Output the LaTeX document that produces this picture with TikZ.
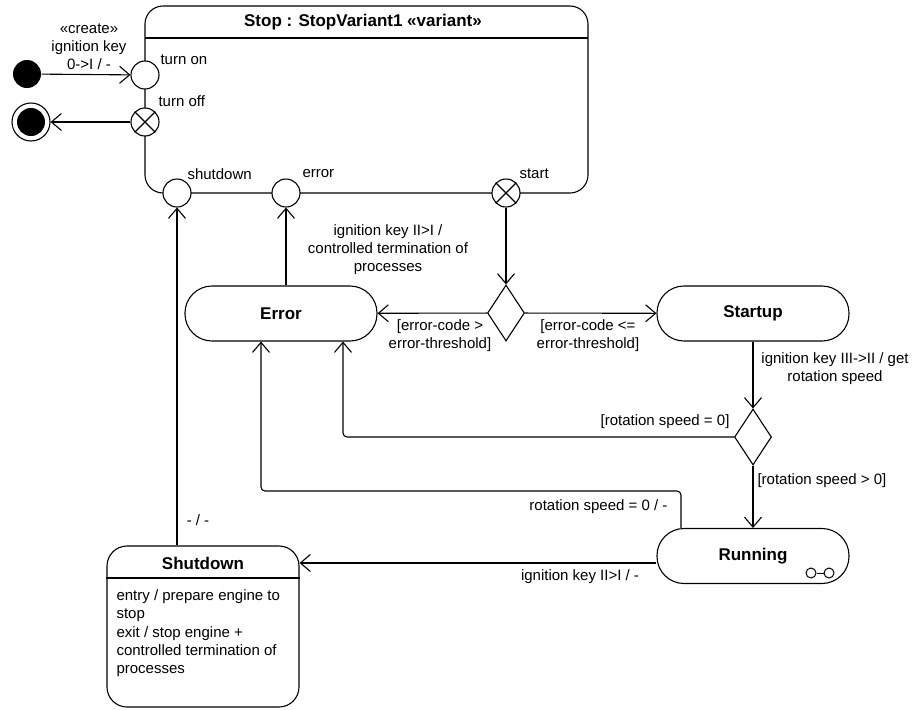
\documentclass[tikz,border=0pt]{standalone}
\usepackage{fontspec}
\setmainfont{Liberation Sans}
\usetikzlibrary{arrows.meta,shapes.geometric}
\begin{document}
\begin{tikzpicture}[x=1pt,y=-1pt,
  line width=1.1pt,
  every node/.style={font=\fontsize{15}{18}\selectfont, inner sep=0pt},
  title/.style={font=\fontsize{17}{20}\selectfont\bfseries},
  statebox/.style={draw, rounded corners=27pt, minimum width=192pt, minimum height=55pt,
    font=\fontsize{17}{20}\selectfont\bfseries},
  port/.style={draw, circle, fill=white, minimum size=28pt},
  choice/.style={draw, diamond, fill=white, minimum width=37pt, minimum height=56pt},
  arr/.style={-{Straight Barb[length=10pt,width=17pt,line width=1.1pt]}},
  lbl/.style={align=center},
]
\useasboundingbox (0,0) rectangle (922,710);

% composite state Stop
\draw[rounded corners=18pt] (145,6) rectangle (588,193);
\draw (145,38) -- (588,38);
\node[title] (stophead) at (363,22) {Stop : StopVariant1 «variant»};

% entry and exit points
\node[port] (turnon) at (145,75) {};
\node[port] (turnoff) at (145,122) {};
\node[port] (shport) at (177,193) {};
\node[port] (errport) at (286,193) {};
\node[port] (startport) at (506,193) {};
\foreach \p in {turnoff,startport}{
  \draw (\p.north west) -- (\p.south east) (\p.north east) -- (\p.south west);
}
\node[anchor=west] (lturnon) at (160,60) {turn on};
\node[anchor=west] (lturnoff) at (158,101) {turn off};
\node[anchor=west] (lshport) at (187,174) {shutdown};
\node[anchor=west] (lerrport) at (302,174) {error};
\node[anchor=west] (lstartport) at (519,174) {start};

% pseudo states
\node[circle, fill=black, minimum size=28pt] (init) at (27,74) {};
\node[circle, draw, fill=white, minimum size=38pt] (final) at (31,122) {};
\node[circle, fill=black, minimum size=28pt] (finalin) at (31,122) {};

% states
\node[statebox] (error) at (281,313.5) {Error};
\node[statebox] (startup) at (753,313.5) {Startup};
\node[statebox] (running) at (753,556) {Running};
\node[choice] (d1) at (506,313) {};
\node[choice] (d2) at (753,437) {};

% decomposition icon of Running
\node[circle, draw, minimum size=10pt, line width=1pt] (ia) at (811,573) {};
\node[circle, draw, minimum size=10pt, line width=1pt] (ib) at (829,573) {};
\draw[line width=1pt] (ia) -- (ib);

% Shutdown state with compartment
\node[draw, rounded corners=20pt, minimum width=192pt, minimum height=161pt] (shutdown) at (203,626.5) {};
\node[title] (shtitle) at (203,563) {Shutdown};
\draw (shutdown.west |- 0,578) -- (shutdown.east |- 0,578);
\node[anchor=north west, align=left, font=\fontsize{15}{18.3}\selectfont] (shbody) at (116,589)
  {entry / prepare engine to\\stop\\exit / stop engine +\\controlled termination of\\processes};

% transitions
\draw[arr] (init) -- (turnon);
\draw[arr] (turnoff) -- (final);
\node[lbl] (lcreate) at (89,47) {«create»\\ignition key\\0->I / -};

\draw[arr] (startport) -- (d1);
\draw[arr] (d1) -- (error);
\node[lbl] (ld1err) at (440,336) {[error-code >\\error-threshold]};
\draw[arr] (d1) -- (startup);
\node[lbl] (ld1start) at (588,336) {[error-code <=\\error-threshold]};

\draw[arr] (errport |- error.north) -- (errport);
\node[lbl] (lerrtr) at (388,250) {ignition key II>I /\\controlled termination of\\processes};

\draw[arr] (startup) -- (d2);
\node[lbl] (lstartup) at (835,369) {ignition key III->II / get\\rotation speed};

\draw[arr, rounded corners=4pt] (d2.west) -| ([xshift=62pt]error.south);
\node[anchor=east] (lrot0) at (730,422) {[rotation speed = 0]};

\draw[arr] (d2) -- (running);
\node[anchor=west] (lrotpos) at (757,481) {[rotation speed > 0]};

\coordinate (runback) at (681,491);
\draw[arr, rounded corners=4pt] (runback |- running.north) -- (runback) -| ([xshift=-20pt]error.south);
\node[anchor=east] (lrunback) at (668,507) {rotation speed = 0 / -};

\draw[arr] ([yshift=-7pt]running.west) coordinate (rw) -- (rw -| shutdown.east);
\node[lbl] (lrunsh) at (580,577) {ignition key II>I / -};

\draw[arr] (shport |- shutdown.north) -- (shport);
\node[lbl] (lshtr) at (198,520) {- / -};
\end{tikzpicture}
\end{document}
